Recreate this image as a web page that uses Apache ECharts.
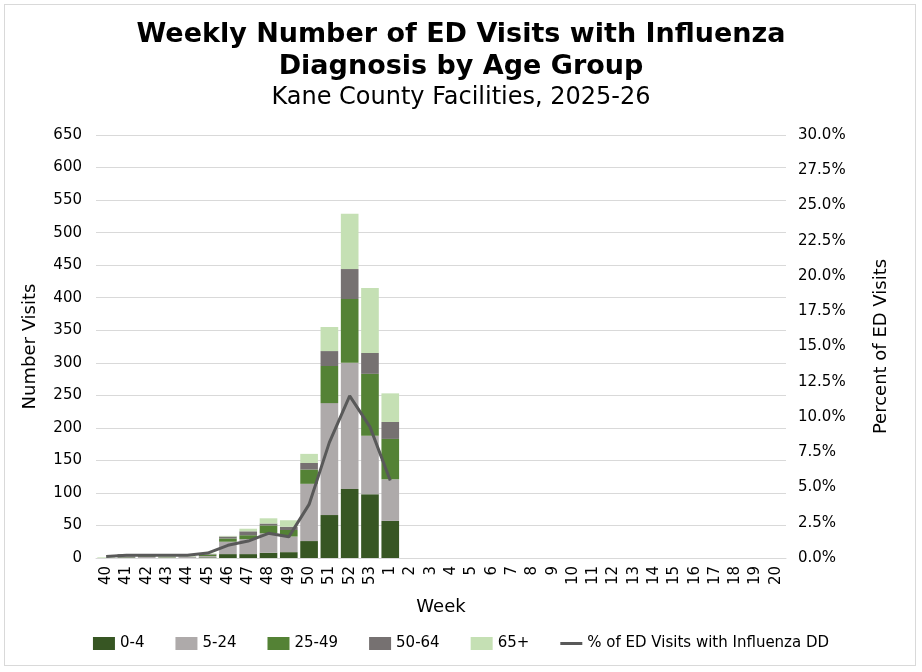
<!DOCTYPE html>
<html lang="en">
<head>
    <meta charset="UTF-8">
    <title>Weekly ED Visits with Influenza</title>
    <script src="https://cdn.jsdelivr.net/npm/echarts@6/dist/echarts.min.js"></script>
    <style>
        html, body { margin: 0; padding: 0; background: #fff; }
        #frame {
            position: absolute; left: 4px; top: 4px; width: 912px; height: 662px;
            border: 1px solid #d9d9d9; box-sizing: border-box;
        }
        #main { position: absolute; left: 0; top: 0; width: 922px; height: 672px; }
    </style>
</head>
<body>
    <div id="frame"></div>
    <div id="main"></div>
    <script>
        // weeks of the 2025-26 season
        var weeks = ['40','41','42','43','44','45','46','47','48','49','50','51','52','53',
                     '1','2','3','4','5','6','7','8','9','10','11','12','13','14','15','16','17','18','19','20'];

        // visits per age group
        var age0_4   = [0, 1, 0, 0, 0, 1,  6,  6,  8,  9,  26,  66, 106,  98,  57];
        var age5_24  = [0, 3, 2, 1, 1, 2, 19, 23, 30, 24,  88, 172, 194,  90,  64];
        var age25_49 = [0, 1, 1, 1, 0, 2,  5,  6, 12, 10,  22,  57,  98,  95,  62];
        var age50_64 = [0, 1, 1, 0, 1, 1,  3,  6,  3,  5,  10,  23,  46,  32,  26];
        var age65    = [1, 0, 1, 1, 1, 1,  1,  4,  8, 10,  14,  37,  85, 100,  44];

        // percent of ED visits with influenza diagnosis
        var pctFlu = [0.1, 0.2, 0.2, 0.2, 0.2, 0.35, 0.9, 1.2, 1.75, 1.5, 3.8, 8.2, 11.5, 9.3, 5.5];

        var font = 'DejaVu Sans, Verdana, sans-serif';
        var myChart = echarts.init(document.getElementById('main'));

        function barSeries(name, data, color) {
            return {
                name: name,
                type: 'bar',
                stack: 'age',
                data: data,
                barCategoryGap: '13%',
                itemStyle: { color: color },
                emphasis: { disabled: true }
            };
        }

        var option = {
            animation: false,
            textStyle: { fontFamily: font },
            title: [{
                text: 'Weekly Number of ED Visits with Influenza\nDiagnosis by Age Group',
                left: 'center',
                top: 14,
                textStyle: { fontFamily: font, fontSize: 27, fontWeight: 'bold', color: '#000', lineHeight: 32 }
            }, {
                text: 'Kane County Facilities, 2025-26',
                left: 'center',
                top: 81,
                textStyle: { fontFamily: font, fontSize: 24, fontWeight: 'normal', color: '#000' }
            }],
            legend: {
                bottom: 16,
                left: 'center',
                itemWidth: 22,
                itemHeight: 13,
                itemGap: 31,
                textStyle: { fontFamily: font, fontSize: 15, color: '#000' },
                data: [
                    { name: '0-4', icon: 'rect' },
                    { name: '5-24', icon: 'rect' },
                    { name: '25-49', icon: 'rect' },
                    { name: '50-64', icon: 'rect' },
                    { name: '65+', icon: 'rect' },
                    { name: '% of ED Visits with Influenza DD', icon: 'path://M0,0 L22,0 L22,3 L0,3 Z', itemStyle: { color: '#595959' } }
                ]
            },
            grid: { left: 96, right: 136, top: 135, bottom: 114 },
            xAxis: {
                type: 'category',
                data: weeks,
                name: 'Week',
                nameLocation: 'middle',
                nameGap: 40,
                nameTextStyle: { fontFamily: font, fontSize: 18, color: '#000' },
                axisLine: { lineStyle: { color: '#d9d9d9' } },
                axisTick: { show: false },
                axisLabel: { rotate: 90, interval: 0, fontSize: 15, color: '#000', margin: 8 }
            },
            yAxis: [{
                type: 'value',
                min: 0, max: 650, interval: 50,
                name: 'Number Visits',
                nameLocation: 'middle',
                nameGap: 57,
                nameTextStyle: { fontFamily: font, fontSize: 18, color: '#000' },
                axisLine: { show: false },
                axisTick: { show: false },
                axisLabel: { fontSize: 15, color: '#000', margin: 14 },
                splitLine: { lineStyle: { color: '#d9d9d9' } }
            }, {
                type: 'value',
                min: 0, max: 30, interval: 2.5,
                name: 'Percent of ED Visits',
                nameLocation: 'middle',
                nameGap: 86,
                nameRotate: 90,
                nameTextStyle: { fontFamily: font, fontSize: 18, color: '#000' },
                axisLine: { show: false },
                axisTick: { show: false },
                axisLabel: { fontSize: 15, color: '#000', margin: 12, formatter: function (v) { return v.toFixed(1) + '%'; } },
                splitLine: { show: false }
            }],
            series: [
                barSeries('0-4', age0_4, '#375623'),
                barSeries('5-24', age5_24, '#aeaaaa'),
                barSeries('25-49', age25_49, '#548235'),
                barSeries('50-64', age50_64, '#767171'),
                barSeries('65+', age65, '#c5e0b4'),
                {
                    name: '% of ED Visits with Influenza DD',
                    type: 'line',
                    yAxisIndex: 1,
                    data: pctFlu,
                    symbol: 'none',
                    lineStyle: { color: '#595959', width: 3 },
                    itemStyle: { color: '#595959' },
                    emphasis: { disabled: true }
                }
            ]
        };

        myChart.setOption(option);
        window.onresize = myChart.resize;
    </script>
</body>
</html>
